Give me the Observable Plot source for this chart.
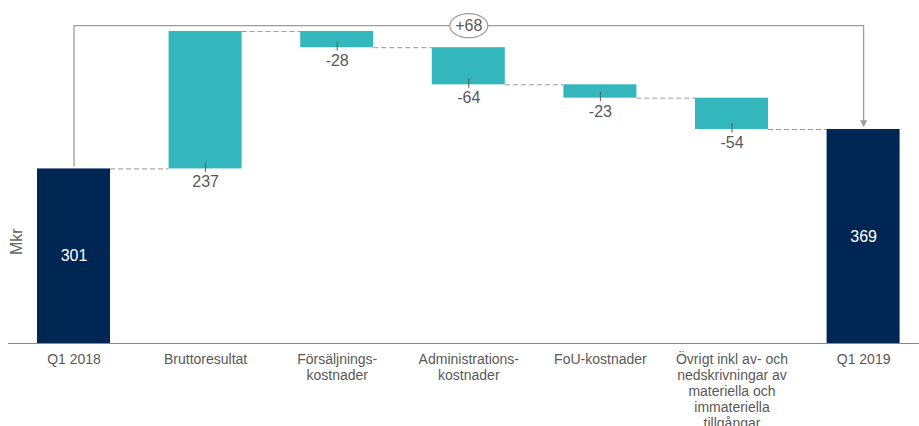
<!DOCTYPE html>
<html>
<head>
<meta charset="utf-8">
<script src="https://cdn.jsdelivr.net/npm/d3@7"></script>
<script src="https://cdn.jsdelivr.net/npm/@observablehq/plot@0.6"></script>
<style>
  body { margin: 0; background: #fff; }
</style>
</head>
<body>
<div id="chart"></div>
<script>
// ---- Data ----
const categories = [
  "Q1 2018",
  "Bruttoresultat",
  "Försäljnings-\nkostnader",
  "Administrations-\nkostnader",
  "FoU-kostnader",
  "Övrigt inkl av- och\nnedskrivningar av\nmateriella och\nimmateriella\ntillgångar",
  "Q1 2019"
];
const values = [301, 237, -28, -64, -23, -54, 369];
const kinds = ["total", "delta", "delta", "delta", "delta", "delta", "total"];
const changeLabel = "+68";
const yLabel = "Mkr";

// ---- Derived rows ----
let cum = 0;
const rows = categories.map((c, i) => {
  let y1, y2;
  if (kinds[i] === "total") { y1 = 0; y2 = values[i]; cum = values[i]; }
  else { y1 = cum; y2 = cum + values[i]; cum = y2; }
  return {i, c, v: values[i], kind: kinds[i], y1, y2, lo: Math.min(y1, y2), end: cum};
});
const connectors = rows.slice(0, -1).map(r => ({i: r.i, level: r.end}));

// ---- Layout ----
const W = 919, H = 426;
const marginLeft = 8, marginBottom = 83;
const firstCenter = 73.5, step = 131.6, halfBar = 36.5 / step;
const pxPerUnit = 0.58;
const xDomain = [(marginLeft - firstCenter) / step, (W - firstCenter) / step];
const yDomain = [0, (H - marginBottom) / pxPerUnit];

const teal = "#33b7bc", navy = "#002654", grayText = "#595959", bracket = "#a39b9b";

const first = rows[0], last = rows[rows.length - 1];
const bracketLevel = 548;
const bracketPath = [
  {i: first.i, v: first.v + 5},
  {i: first.i, v: bracketLevel},
  {i: last.i, v: bracketLevel},
  {i: last.i, v: last.v + 15}
];

const tickSymbol = {draw(ctx) { ctx.moveTo(0, -6.5); ctx.lineTo(0, 3); }};
const arrowSymbol = {draw(ctx) { ctx.moveTo(-3.5, -7); ctx.lineTo(3.5, -7); ctx.lineTo(0, 0); ctx.closePath(); }};
const ellipseSymbol = {draw(ctx) {
  const rx = 19, ry = 12, k = 0.5523;
  ctx.moveTo(rx, 0);
  ctx.bezierCurveTo(rx, ry * k, rx * k, ry, 0, ry);
  ctx.bezierCurveTo(-rx * k, ry, -rx, ry * k, -rx, 0);
  ctx.bezierCurveTo(-rx, -ry * k, -rx * k, -ry, 0, -ry);
  ctx.bezierCurveTo(rx * k, -ry, rx, -ry * k, rx, 0);
  ctx.closePath();
}};

const deltas = rows.filter(r => r.kind === "delta");
const totals = rows.filter(r => r.kind === "total");
const mid = {i: (first.i + last.i) / 2, v: bracketLevel};

const chart = Plot.plot({
  width: W,
  height: H,
  marginLeft,
  marginRight: 0,
  marginTop: 0,
  marginBottom,
  style: {fontFamily: "'Liberation Sans', Arial, sans-serif", fontSize: "14px", color: grayText, background: "#fff"},
  x: {type: "linear", domain: xDomain, axis: null},
  y: {domain: yDomain, axis: null},
  marks: [
    // bracket
    Plot.line(bracketPath, {x: "i", y: "v", stroke: bracket, strokeWidth: 1.3}),
    Plot.dot([{i: last.i, v: last.v + 4}], {x: "i", y: "v", symbol: arrowSymbol, fill: bracket, stroke: "none"}),
    Plot.dot([mid], {x: "i", y: "v", symbol: ellipseSymbol, fill: "#fff", stroke: bracket, strokeWidth: 1.2}),
    Plot.text([mid], {x: "i", y: "v", text: () => changeLabel, fill: grayText, fontSize: 16}),
    // connectors
    Plot.ruleY(connectors, {x1: d => d.i + halfBar, x2: d => d.i + 1 - halfBar, y: "level", stroke: "#999", strokeDasharray: "5,3", strokeWidth: 1}),
    // bars
    Plot.rectY(rows, {x1: d => d.i - halfBar, x2: d => d.i + halfBar, y1: "y1", y2: "y2", fill: d => d.kind === "total" ? navy : teal}),
    // axis line
    Plot.ruleY([0], {stroke: "#8a8a8a", strokeWidth: 1.2}),
    // delta ticks + labels
    Plot.dot(deltas, {x: "i", y: "lo", symbol: tickSymbol, stroke: grayText, fill: "none", strokeWidth: 1}),
    Plot.text(deltas, {x: "i", y: "lo", text: d => String(d.v), lineAnchor: "top", dy: 7, fill: grayText, fontSize: 16}),
    // total labels
    Plot.text(totals, {x: "i", y: d => d.v / 2, text: d => String(d.v), fill: "#fff", fontSize: 16}),
    // category labels
    Plot.text(rows, {x: "i", y: 0, text: "c", lineAnchor: "top", dy: 9, lineHeight: 1.14, fill: grayText, fontSize: 14}),
    // y label
    Plot.text([yLabel], {frameAnchor: "left", text: d => d, rotate: -90, dx: 8, dy: 83, fill: "#666", fontSize: 16})
  ]
});
document.getElementById("chart").appendChild(chart);
</script>
</body>
</html>
